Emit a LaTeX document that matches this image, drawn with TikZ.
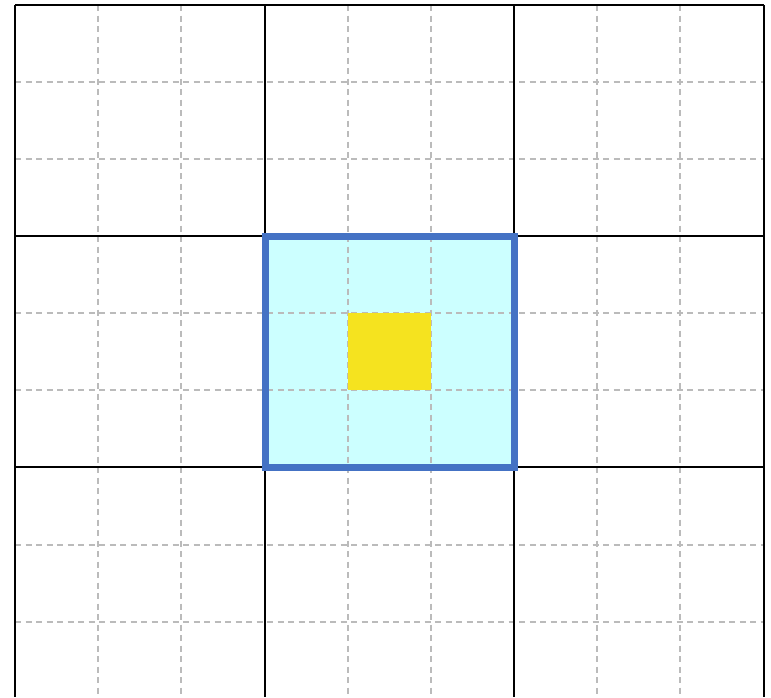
\documentclass[tikz,border=0pt]{standalone}
\definecolor{gridgray}{RGB}{187,187,187}
\definecolor{boxblue}{RGB}{68,114,196}
\definecolor{boxcyan}{RGB}{204,255,255}
\definecolor{boxyellow}{RGB}{245,227,31}
\begin{document}
\begin{tikzpicture}[x=1pt,y=-1pt,
  gridline/.style={draw=gridgray,line width=1.5pt,dash pattern=on 6pt off 4.5pt},
  solidline/.style={draw=black,line width=2pt},
  blueborder/.style={draw=boxblue,line width=7pt},
  yellowbox/.style={fill=boxyellow}]
\useasboundingbox (0,0) rectangle (771,697);
\fill[white] (0,0) rectangle (771,697);
% cyan fill
\fill[boxcyan] (265,236) rectangle (514,467);
% dashed grid
\foreach \x in {98,181,348,431,597,680} \draw[gridline] (\x,5) -- (\x,697);
\foreach \y in {82,159,313,390,545,622} \draw[gridline] (15,\y) -- (764,\y);
% yellow square
\fill[yellowbox] (348,313) rectangle (431,390);
% solid lines
\foreach \x in {15,265,514,764} \draw[solidline] (\x,5) -- (\x,697);
\foreach \y in {5,236,467} \draw[solidline] (15,\y) -- (764,\y);
% blue border
\draw[blueborder] (265,236) rectangle (514,467);
\end{tikzpicture}
\end{document}
